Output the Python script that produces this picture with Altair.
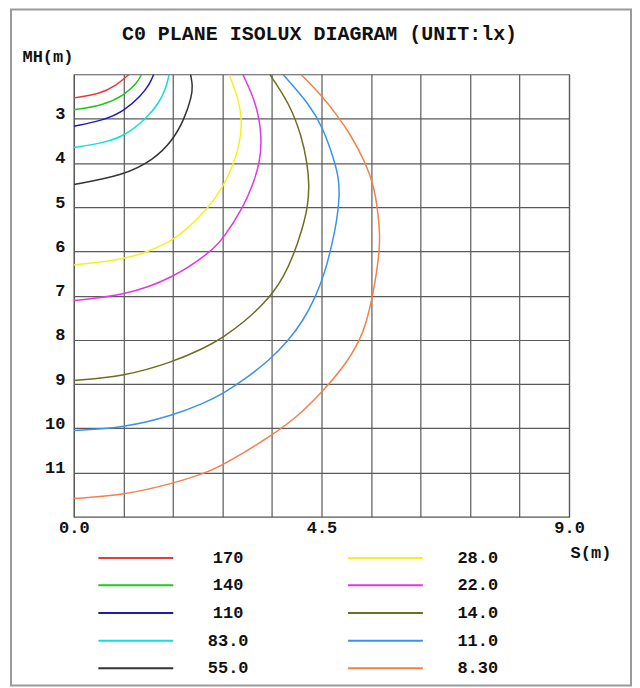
import altair as alt
import pandas as pd

TITLE = "C0 PLANE ISOLUX DIAGRAM (UNIT:lx)"
FONT = "Liberation Mono"

LEVELS = ["170", "140", "110", "83.0", "55.0", "28.0", "22.0", "14.0", "11.0", "8.30"]
COLORS = ["#e83a3a", "#22c522", "#1c1cb4", "#12dede", "#333333",
          "#f2f222", "#e236e2", "#6e6e1e", "#3a92ec", "#f4804a"]

# Curve points: S (m) horizontal, MH (m) vertical
S_170 = [0, 0.47, 0.77, 1.0]
MH_170 = [2.53, 2.44, 2.25, 2.0]
S_140 = [0, 0.53, 0.91, 1.14, 1.23]
MH_140 = [2.80, 2.70, 2.47, 2.21, 2.0]
S_110 = [0, 0.53, 0.91, 1.23, 1.38, 1.45]
MH_110 = [3.17, 3.04, 2.83, 2.47, 2.21, 2.0]
S_83 = [0, 0.53, 0.91, 1.32, 1.56, 1.68, 1.73]
MH_83 = [3.65, 3.55, 3.40, 3.0, 2.62, 2.29, 2.0]
S_55 = [0, 0.91, 1.44, 1.80, 2.01, 2.14, 2.16, 2.12]
MH_55 = [4.49, 4.28, 3.94, 3.49, 3.0, 2.51, 2.25, 2.0]
S_28 = [0, 0.91, 1.38, 1.80, 2.04, 2.46, 2.71, 2.88, 3.02, 3.06, 2.98, 2.82]
MH_28 = [6.31, 6.18, 6.0, 5.74, 5.52, 5.0, 4.54, 4.1, 3.56, 3.0, 2.51, 2.0]
S_22 = [0, 0.91, 1.80, 2.50, 2.72, 3.08, 3.25, 3.38, 3.42, 3.32, 3.07]
MH_22 = [7.11, 7.0, 6.61, 6.0, 5.7, 5.0, 4.5, 4.0, 3.41, 2.66, 2.0]
S_14 = [0, 0.91, 1.80, 2.35, 2.71, 3.13, 3.44, 3.62, 3.80, 3.99, 4.15, 4.25, 4.28,
        4.24, 4.14, 3.92, 3.56]
MH_14 = [8.92, 8.83, 8.50, 8.20, 7.95, 7.56, 7.19, 6.93, 6.6, 6.1, 5.5, 5.0, 4.5,
         4.0, 3.4, 2.66, 2.0]
S_11 = [0, 0.91, 1.80, 2.35, 2.71, 3.165, 3.56, 3.89, 4.17, 4.39, 4.57, 4.69, 4.78,
        4.83, 4.81, 4.71, 4.53, 4.29, 3.80]
MH_11 = [10.05, 9.99, 9.71, 9.44, 9.22, 8.84, 8.45, 8.03, 7.56, 7.04, 6.45, 5.84, 5.3,
         4.75, 4.3, 3.86, 3.22, 2.69, 2.0]
S_830 = [0, 0.91, 1.80, 2.41, 2.71, 3.61, 4.13, 4.60, 4.97, 5.19, 5.31, 5.43, 5.50,
         5.55, 5.56, 5.53, 5.45, 5.30, 5.04, 4.77, 4.50, 4.13]
MH_830 = [11.59, 11.51, 11.25, 11.0, 10.83, 10.16, 9.67, 9.06, 8.5, 8.02, 7.64, 7.0,
          6.5, 6.0, 5.6, 5.14, 4.5, 4.0, 3.38, 2.9, 2.47, 2.0]

CURVES = {
    "170": (S_170, MH_170), "140": (S_140, MH_140), "110": (S_110, MH_110),
    "83.0": (S_83, MH_83), "55.0": (S_55, MH_55), "28.0": (S_28, MH_28),
    "22.0": (S_22, MH_22), "14.0": (S_14, MH_14), "11.0": (S_11, MH_11),
    "8.30": (S_830, MH_830),
}

X_GRID = [0, 0.9, 1.8, 2.7, 3.6, 4.5, 5.4, 6.3, 7.2, 8.1, 9.0]
X_LABELS = [0, 4.5, 9.0]
Y_GRID = [3, 4, 5, 6, 7, 8, 9, 10, 11]

rows = []
for lvl, (s, mh) in CURVES.items():
    for i, (a, b) in enumerate(zip(s, mh)):
        rows.append({"level": lvl, "i": i, "s": a, "mh": b})
df = pd.DataFrame(rows)

label_test = "indexof([" + ",".join(str(v) for v in X_LABELS) + "], datum.value) >= 0"

lines = alt.Chart(df).mark_line(clip=True, strokeWidth=1.5, interpolate="basis").encode(
    x=alt.X("s:Q",
            scale=alt.Scale(domain=[0, 9], nice=False, zero=False),
            axis=alt.Axis(values=X_GRID, labelExpr=label_test + " ? format(datum.value, '.1f') : ''",
                          grid=True, ticks=False, domain=False, labelFlush=False,
                          labelPadding=11, labelBaseline="middle", labelFont=FONT,
                          labelFontSize=17, labelFontWeight="bold", labelColor="#111",
                          title="S(m)", titleX=497, titleY=36, titleAlign="left",
                          titleBaseline="middle", titleFont=FONT, titleFontSize=17,
                          titleFontWeight="bold", titleColor="#111")),
    y=alt.Y("mh:Q",
            scale=alt.Scale(domain=[2, 12], reverse=True, nice=False, zero=False),
            axis=alt.Axis(values=Y_GRID, grid=True, ticks=False, domain=False,
                          labelPadding=9, labelBaseline="alphabetic", labelFont=FONT,
                          labelFontSize=17, labelFontWeight="bold", labelColor="#111",
                          labelFlush=False,
                          title="MH(m)", titleAngle=0, titleX=-52, titleY=-18,
                          titleAlign="left", titleBaseline="middle", titleFont=FONT,
                          titleFontSize=17, titleFontWeight="bold", titleColor="#111")),
    color=alt.Color("level:N",
                    scale=alt.Scale(domain=LEVELS, range=COLORS),
                    legend=alt.Legend(orient="none", legendX=53.5, legendY=475.5,
                                      columns=2, title=None, padding=0,
                                      symbolType="M-5,0H5", symbolSize=225,
                                      symbolStrokeWidth=2, labelFont=FONT,
                                      labelFontSize=17, labelFontWeight="bold",
                                      labelColor="#111", labelAlign="center",
                                      labelOffset=84, columnPadding=95,
                                      rowPadding=9.7, labelLimit=0)),
    order=alt.Order("i:Q"),
)

border = alt.Chart(pd.DataFrame({"a": [0]})).mark_rect(
    filled=False, stroke="#9a9a9a", strokeWidth=2
).encode(x=alt.value(-63), x2=alt.value(558), y=alt.value(-65), y2=alt.value(612))

title = alt.Chart(pd.DataFrame({"t": [TITLE]})).mark_text(
    font=FONT, fontSize=20, fontWeight="bold", align="center", baseline="middle", color="#111"
).encode(text="t:N", x=alt.value(246), y=alt.value(-40))

chart = alt.layer(border, lines, title).properties(
    width=496, height=443,
    padding={"left": 2, "top": 0, "right": 0, "bottom": 0},
    background="white",
).configure_view(stroke="#555", strokeWidth=1.2).configure_axis(
    gridColor="#5a5a5a", gridOpacity=1, gridWidth=1.2
)

chart.save("out.html", embed_options={"renderer": "svg", "actions": False})
